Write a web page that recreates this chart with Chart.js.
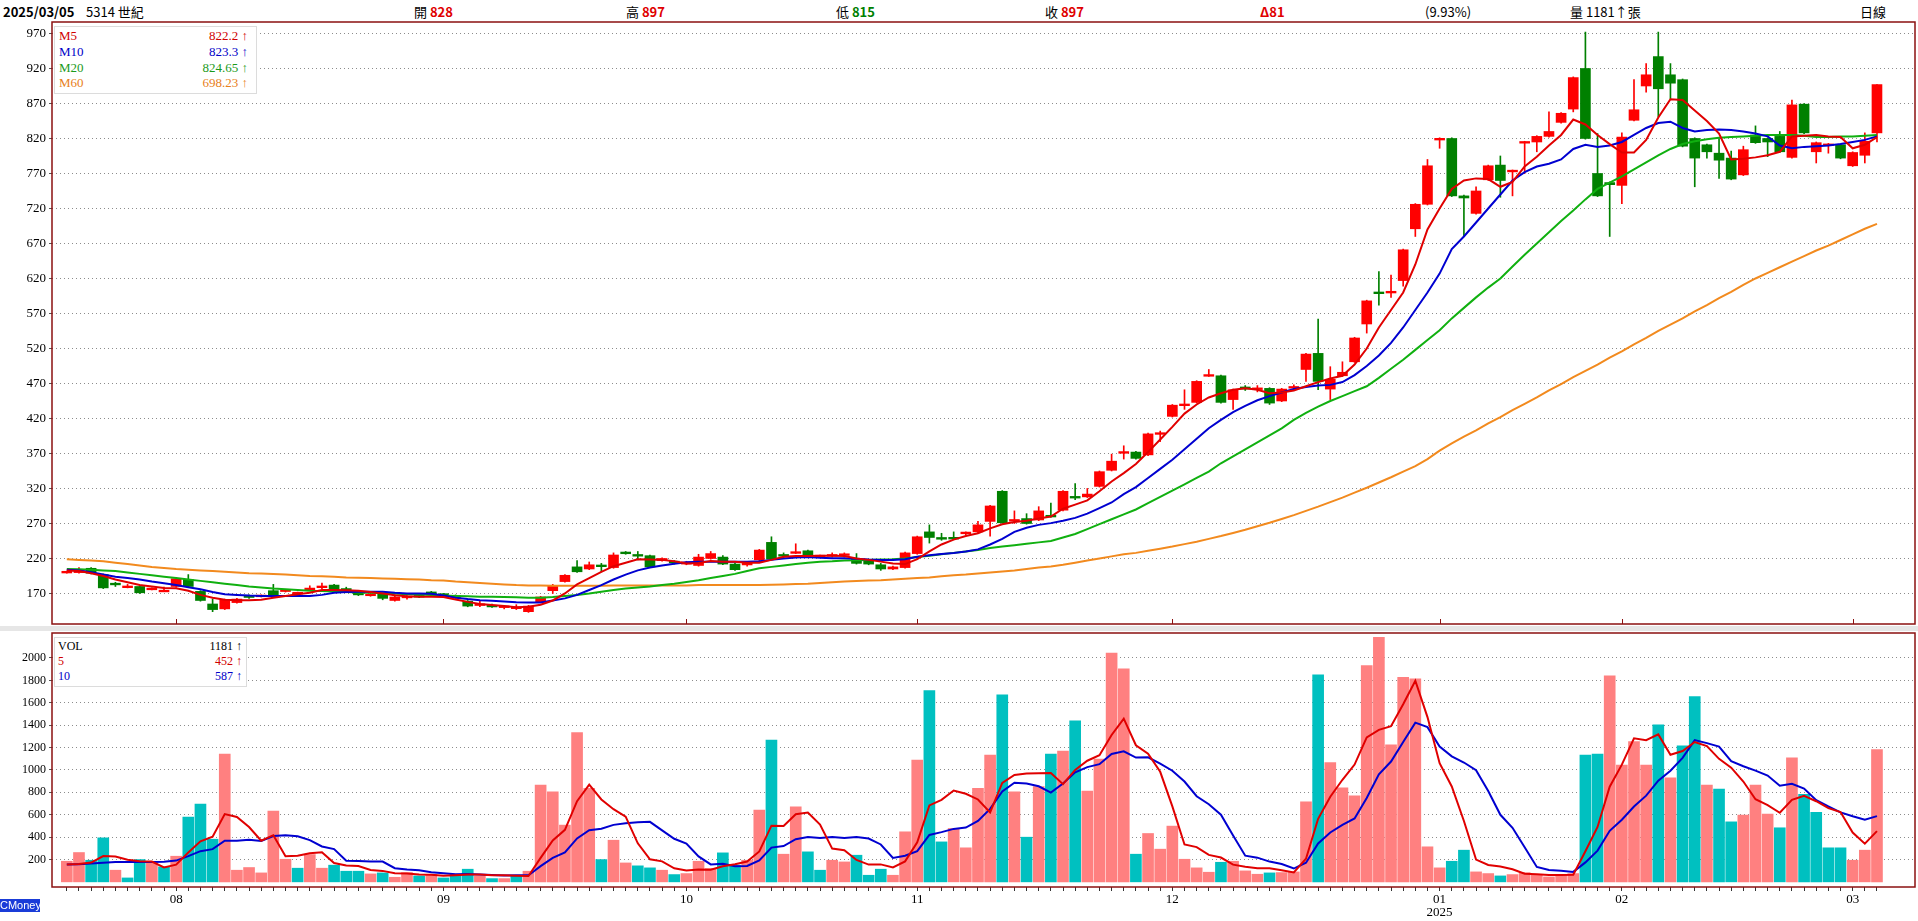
<!DOCTYPE html>
<html>
<head>
<meta charset="utf-8">
<script src="https://cdn.jsdelivr.net/npm/chart.js@4.4.1/dist/chart.umd.min.js"></script>
<style>
  body { margin: 0; width: 1918px; height: 921px; overflow: hidden; position: relative; background: #fff;
         font-family: "Liberation Serif", "Noto Sans CJK TC", serif; }
  canvas { position: absolute; left: 0; }
  #head span { position: absolute; top: 2px; font-size: 13px; white-space: nowrap; font-family: "Liberation Sans Narrow", "Noto Sans CJK TC", sans-serif; }
  .b { font-weight: bold; }
  .red { color: #e00000; }
  .grn { color: #008000; }
  .box { position: absolute; background: #fff; border: 1px solid #dcdcdc; font-size: 13px; }
  .box div { position: absolute; white-space: nowrap; }
  #strip { position: absolute; left: 0; top: 626px; width: 1918px; height: 5px; background: #e6e6e6; }
  #cm { position: absolute; left: 0; top: 899px; width: 40px; height: 13px; background: #1a3cd8; color: #fff;
        font: 11px "Liberation Sans Narrow", sans-serif; line-height: 13px; text-align: center; }
</style>
</head>
<body>
<div id="head">
  <span class="b" style="left:3px">2025/03/05</span>
  <span style="left:86px">5314 世紀</span>
  <span style="left:414px">開 <b class="red">828</b></span>
  <span style="left:626px">高 <b class="red">897</b></span>
  <span style="left:836px">低 <b class="grn">815</b></span>
  <span style="left:1045px">收 <b class="red">897</b></span>
  <span class="b red" style="left:1260px">Δ81</span>
  <span style="left:1425px">(9.93%)</span>
  <span style="left:1570px">量 1181↑張</span>
  <span style="left:1860px">日線</span>
</div>
<canvas id="main" width="1918" height="606" style="top:20px"></canvas>
<div id="strip"></div>
<canvas id="vol" width="1918" height="290" style="top:631px"></canvas>
<div class="box" style="left:54px;top:26px;width:201px;height:66px">
  <div style="left:4px;top:1px;color:#d00000">M5</div><div style="right:8px;top:1px;color:#d00000">822.2 ↑</div>
  <div style="left:4px;top:17px;color:#0000c8">M10</div><div style="right:8px;top:17px;color:#0000c8">823.3 ↑</div>
  <div style="left:4px;top:33px;color:#1a9a1a">M20</div><div style="right:8px;top:33px;color:#1a9a1a">824.65 ↑</div>
  <div style="left:4px;top:48px;color:#e8801a">M60</div><div style="right:8px;top:48px;color:#e8801a">698.23 ↑</div>
</div>
<div class="box" style="left:54px;top:637px;width:191px;height:48px;font-size:12px">
  <div style="left:3px;top:1px;color:#000">VOL</div><div style="right:4px;top:1px;color:#000">1181 ↑</div>
  <div style="left:3px;top:16px;color:#d00000">5</div><div style="right:4px;top:16px;color:#d00000">452 ↑</div>
  <div style="left:3px;top:31px;color:#0000c8">10</div><div style="right:4px;top:31px;color:#0000c8">587 ↑</div>
</div>
<div id="cm">CMoney</div>
<script>
// daily candles, 2024/07/17 .. 2025/03/05
const opens = [
  200,200,206,197,184,179,180,176,173,180, 190,173,155,148,157,166,166,174,173,170,
  176,179,182,177,171,167,169,160,164,167, 172,169,166,159,153,153,150,149,144,158,
  174,187,208,205,210,207,229,225,224,217, 216,212,210,220,222,212,211,218,243,225,
  228,231,223,224,225,219,218,211,205,207, 227,258,250,249.5,256,258,273,316,274,277,
  275,281,289,308,308,323,346,371,372,368, 398,423,439,443,481,481,447,465,462,463,
  445,464,490,513,462,481,501,555,600,600, 617,691,726,818,820,738,713,761,782,773,
  814,815,823,843,862,920,770,757,753,846, 895,937,911,904,820,811,799,792,768,825,
  820,823,793,869,801,810,811,781,796,828];
const highs = [
  202,207,207,198,186,183,180,178,179,192, 197,174,162,162,163,168,168,183,176,172,
  181,185,183,179,173,171,170,168,167,168, 173,170,168,160,159,155,153,154,153,166,
  183,197,217,215,213,228,230,230,225,221, 217,216,226,230,224,213,216,233,251,228,
  241,232,225,228,228,227,219,213,209,229, 252,268,256,258,258,273,296,317,288,284,
  294,299,317,327,320,345,369,381,373,399, 402,440,461,474,490,482,462,467,467,464,
  463,468,513,562,494,501,536,589,630,625, 662,727,790,821,821,739,751,782,795,775,
  816,824,858,857,908,972,827,758,828,904, 927,972,927,905,821,812,820,802,809,838,
  821,830,875,870,815,813,812,801,828,897];
const lows = [
  199,199,198,177,180,178,170,175,173,179, 179,159,144,147,156,163,165,167,172,169,
  175,177,173,171,167,166,161,159,162,164, 169,167,163,151,151,150,148,147,143,157,
  170,186,200,204,201,206,226,218,207,216, 212,211,209,219,211,203,209,217,218,221,
  227,224,222,222,222,212,211,203,204,206, 226,242,246,247,254,256,252,270,270,269,
  274,279,288,304,307,322,345,362,362,367, 387,422,433,442,480,442,433,460,458,440,
  444,460,473,461,447,480,500,542,582,593, 609,680,725,806,737,681,712,760,736,738,
  770,801,822,842,858,819,737,680,727,845, 886,851,877,808,751,792,763,761,767,813,
  794,800,792,827,785,799,791,780,785,815];
const closes = [
  201,202,199,178,183,180,171,177,174,191, 180,160,147,161,162,165,167,168,175,171,
  177,180,174,172,168,169,163,165,166,165, 170,168,165,152,155,151,152,150,152,165,
  181,196,201,211,209,225,227,224,208,220, 214,215,222,227,212,204,213,232,219,224,
  229,225,224,225,226,213,212,205,208,228, 251,250,247.5,248.5,257,268,295,271,275,270,
  288,280,316,307,312,344,359,372,363,398, 399,439,440,473,482,443,461,462,463,442,
  462,465,512,473,476,486,535,588,599,601, 661,726,781,820,738,735,745,781,760,774,
  815,823,830,856,907,820,738,754,822,861, 911,891,899,809,792,801,789,762,804,814,
  815,801,868,828,814,812,792,800,816,897];

const ma5 = [
  203,202,199,195,190,186,182,180,178,177.5, 174,168,164,161,160.5,160.5,161,164,166.5,169,
  171,175,175,174.5,174,172,170,167.5,166,165.5, 165.5,165,161.5,158,155,153.5,152,150.5,151,154,
  160,170,183,192,201,209,214,219,218.5,218, 216,213,213.5,216.5,215.5,215.5,214,214,218,222.5,
  223.5,223.5,224,224,223.5,220,218,215.5,213,212, 219,230,240,247,252,256,263,269,272,274,
  277,280,291,297,303,316,330,342,355,372, 390,408,427,440,450,456,461,463,461,456,
  457,460,466,472,477,481,497,520,550,575, 600,640,690,720,748,760,763,762,751,758,
  780,794,810,825,847,840,825,812,800,800, 818,850,876,875,860,845,827,790,791,793,
  796,801,823,824,825,823,822,806,811,822];
const ma10 = [
  204,203,200.5,197,194,192,190,187,184.5,182, 179,176,172,169,168,167,166.5,166.5,166.5,166.5,
  166.5,168,171,172,172.5,172.5,172.5,171,170,170, 169.5,167,164,162,160.5,159.5,158.5,157.5,157,157,
  160,163,168,175,182,190,197,203,207,210, 212.5,214.5,215.5,215.5,215.5,215.5,215.5,216,218,220,
  221.5,222,221,220.5,220.5,219.5,218.5,218,218,219, 222.5,224.5,226.5,228,230,233,240,248,258,264,
  268,270.5,274,278,284,292,300,312,322,335, 348,361,376,391,406,418,429,438,446,452,
  457,462,465,467,468,472,482,495,510,528, 550,575,600,627,662,680,700,720,740,760,
  772,780,784,790,805,811,808,810,815,825, 835,842,844,835,830,832,833,832,830,827,
  823,810,806,808,809,810,812,815,818,823];
const ma20 = [
  205,204.5,204,203,202,200,198,196,194,192, 190,188,186,184,182,180,178.5,177,176,175,
  174,173.5,173,172,171.5,171,170.5,170,169,168.5, 168,167,166.5,166,165.5,165.5,165,164.5,164,164,
  165,166.5,168,170,172.5,175,177,178.5,180,182, 184,186.5,189,192,195,198,202,206,208,210,
  212,214,215.5,216,217,217.5,218,218.5,219,220, 222,224,226,228,230,232,235,237,239,241,
  243,245,250,255,262,269,276,283,290,299, 308,317,326,335,344,356,366,376,386,396,
  406,418,428,437,445,452,459,466,478,491, 504,518,532,546,563,578,593,607,620,637,
  654,670,686,702,717,733,748,757,766,776, 786,796,805,812,816,819,821,822,823,824,
  825,825,825,824,822,822,823,823,824,825];
const ma60 = [
  219,218,217,216,214,212,210,208,206.5,205, 204,203,202,201,200,199,198.5,198,197,196,
  195,194.5,194,193,192.5,192,191.5,191,190.5,190, 189,188.5,187,186,185,184,183,182,181.5,181.5,
  181,181,181,181,181,181.5,181.5,181.5,181.5,181.5, 181.5,181.5,182,182,182,182,182,182,182.5,183,
  183.5,184,185,186,187,188,188.5,189,190,191, 192,193,194.5,196,197,198.5,200,201.5,203,205,
  207,208.5,211,214,217,220,223,226,228,231, 234,237,240.5,244,248,252,256.5,261,266,271,
  276.5,282,288,294,300.5,307,314,321,328.5,336, 344,352,362,374,384.5,394,403,413,422,432,
  441,450,460,469,479,488,497,507,516,526, 535,545,554,563,573,582,592,601,611,620,
  628,636,644,652,660,667,675,683,691,698];

const volumes = [
  184,262,193,393,104,35,199,172,134,229, 578,695,381,1142,104,128,80,632,202,122,
  244,122,149,95,95,71,80,41,83,53, 65,35,65,113,53,29,29,53,95,865,
  805,507,1333,835,199,372,169,143,125,104, 65,74,184,119,259,149,193,641,1267,247,
  671,268,104,193,178,238,59,113,59,447, 1088,1709,357,477,304,835,1133,1670,805,399,
  850,1142,1169,1438,811,1097,2043,1903,247,432, 292,498,202,125,86,175,184,98,68,80,
  83,89,715,1849,1065,841,769,1933,2184,1223, 1826,1814,313,125,184,283,89,74,53,65,
  83,59,44,59,74,1133,1142,1840,1044,1253, 1044,1402,930,1214,1655,865,829,536,596,865,
  605,483,1109,781,620,304,304,193,283,1181];
const volMa5 = [
  155,160,172,230,227,197,185,181,129,154, 262,362,403,605,580,490,367,417,229,233,
  256,264,168,146,141,106,98,76,74,66, 64,55,60,66,66,59,58,55,52,214,
  369,465,721,869,736,649,582,344,202,183, 121,102,110,109,140,157,181,272,502,499,
  604,619,511,297,283,196,154,156,129,183, 353,683,732,816,787,736,621,884,955,968,
  971,973,873,1000,1082,1131,1312,1458,1220,1144, 983,674,334,310,241,217,154,134,122,121,
  103,84,207,563,760,912,1048,1291,1358,1390, 1587,1796,1472,1060,852,544,199,151,137,113,
  73,67,61,62,64,274,490,850,1047,1282, 1265,1317,1135,1169,1249,1213,1099,1020,896,738,
  686,617,732,769,720,659,624,440,341,453];
const volMa10 = [
  155,158,163,170,178,178,178,178,180,190, 230,274,292,367,367,376,365,410,417,407,
  373,316,293,188,187,181,181,122,110,104, 85,77,68,70,66,62,57,58,59,140,
  214,262,388,461,475,509,524,533,536,460, 385,342,227,156,162,139,142,191,306,320,
  381,400,392,400,391,400,387,334,213,233, 275,419,444,473,485,545,652,808,886,878,
  854,797,879,978,1025,1051,1143,1166,1110,1113, 1057,993,896,765,693,600,414,234,216,181,
  160,119,171,343,441,508,566,749,961,1075, 1250,1422,1382,1209,1121,1066,998,812,599,483,
  309,133,106,100,89,174,279,456,555,673, 770,904,993,1108,1266,1239,1208,1078,1033,994,
  950,858,876,833,729,673,621,586,555,587];

const priceTicks = [170, 220, 270, 320, 370, 420, 470, 520, 570, 620, 670, 720, 770, 820, 870, 920, 970];
const volTicks = [200, 400, 600, 800, 1000, 1200, 1400, 1600, 1800, 2000];
const monthStarts = [9, 31, 51, 70, 91, 113, 128, 147];
const monthLabels = ['08', '09', '10', '11', '12', ['01', '2025'], '02', '03'];

const xMin = -1.22, xMax = 152.13;
const serif = 'Liberation Serif';

const pts = arr => arr.map((v, i) => ({x: i, y: v}));

const framePlugin = {
    id: 'frame',
    afterDraw(chart, args, opts) {
        const {ctx, chartArea: a} = chart;
        ctx.save();
        // month marks along the bottom edge of the price panel
        if (opts.monthMarks) {
            ctx.strokeStyle = '#8b1010';
            ctx.lineWidth = 1;
            monthStarts.forEach(m => {
                const px = Math.round(chart.scales.x.getPixelForValue(m)) + 0.5;
                ctx.beginPath();
                ctx.moveTo(px, a.bottom);
                ctx.lineTo(px, a.bottom - 5);
                ctx.stroke();
            });
        }
        ctx.strokeStyle = '#8b1010';
        ctx.lineWidth = 1.5;
        ctx.strokeRect(a.left, a.top, a.right - a.left, a.bottom - a.top);
        ctx.restore();
    }
};

// candle parts
const upColor = '#ff0000', downColor = '#008000';
const candleColors = closes.map((c, i) => c >= opens[i] ? upColor : downColor);
const bodies = opens.map((o, i) => {
    let lo = Math.min(o, closes[i]), hi = Math.max(o, closes[i]);
    if (hi - lo < 2.4) {
        const mid = (lo + hi) / 2;
        lo = mid - 1.2; hi = mid + 1.2;
    }
    return {x: i, y: [lo, hi]};
});
const wicks = lows.map((l, i) => ({x: i, y: [l, highs[i]]}));

const yAxisFit = s => { s.width = 52; s.paddingTop = 0; s.paddingBottom = 0; };

new Chart(document.getElementById('main'), {
    type: 'bar',
    data: {
        datasets: [
            {type: 'line', data: pts(ma5), borderColor: '#e00000', borderWidth: 2, pointRadius: 0, order: 0},
            {type: 'line', data: pts(ma10), borderColor: '#0000d0', borderWidth: 2, pointRadius: 0, order: 0},
            {type: 'line', data: pts(ma20), borderColor: '#10b010', borderWidth: 2, pointRadius: 0, order: 0},
            {type: 'line', data: pts(ma60), borderColor: '#f28a1e', borderWidth: 2, pointRadius: 0, order: 0},
            {data: bodies, backgroundColor: candleColors, barThickness: 10, grouped: false, order: 1},
            {data: wicks, backgroundColor: candleColors, barThickness: 1, grouped: false, order: 2}
        ]
    },
    options: {
        responsive: false,
        animation: false,
        layout: {padding: {left: 0, right: 3, top: 2, bottom: 2}},
        plugins: {legend: {display: false}, tooltip: {enabled: false}, frame: {monthMarks: true}},
        scales: {
            x: {
                type: 'linear', min: xMin, max: xMax, offset: false, position: 'bottom',
                afterBuildTicks: s => { s.ticks = volumes.map((v, i) => ({value: i})); },
                afterFit: s => { s.height = 0; s.paddingLeft = 0; s.paddingRight = 0; },
                ticks: {display: false},
                grid: {display: false},
                border: {display: false}
            },
            y: {
                min: 126.4, max: 986.4,
                afterBuildTicks: s => { s.ticks = priceTicks.map(v => ({value: v})); },
                afterFit: yAxisFit,
                ticks: {color: '#000', font: {family: serif, size: 13}, padding: 3, callback: v => String(v)},
                grid: {color: '#8c8c8c', tickLength: 3, tickColor: '#555'},
                border: {display: false, dash: [1, 3]}
            }
        }
    },
    plugins: [framePlugin]
});

const volColors = volumes.map((v, i) => (i === 0 || closes[i] >= closes[i - 1]) ? '#ff8080' : '#00c0c0');

new Chart(document.getElementById('vol'), {
    type: 'bar',
    data: {
        datasets: [
            {type: 'line', data: pts(volMa5), borderColor: '#e00000', borderWidth: 2, pointRadius: 0, order: 0},
            {type: 'line', data: pts(volMa10), borderColor: '#0000d0', borderWidth: 2, pointRadius: 0, order: 0},
            {data: pts(volumes), backgroundColor: volColors, barThickness: 11, grouped: false, order: 1}
        ]
    },
    options: {
        responsive: false,
        animation: false,
        layout: {padding: {left: 0, right: 3, top: 2, bottom: 0}},
        plugins: {legend: {display: false}, tooltip: {enabled: false}, frame: {monthMarks: false}},
        scales: {
            x: {
                type: 'linear', min: xMin, max: xMax, offset: false, position: 'bottom',
                afterBuildTicks: s => { s.ticks = volumes.map((v, i) => ({value: i})); },
                afterFit: s => { s.height = 34; s.paddingLeft = 0; s.paddingRight = 0; },
                ticks: {
                    autoSkip: false, maxRotation: 0, minRotation: 0, padding: 2,
                    color: '#000', font: {family: serif, size: 13, lineHeight: 1.0},
                    callback: v => {
                        const k = monthStarts.indexOf(v);
                        return k >= 0 ? monthLabels[k] : '';
                    }
                },
                grid: {drawOnChartArea: false, offset: false, tickLength: 4, color: '#333', tickColor: '#333'},
                border: {display: false}
            },
            y: {
                min: -46, max: 2223,
                afterBuildTicks: s => { s.ticks = volTicks.map(v => ({value: v})); },
                afterFit: yAxisFit,
                ticks: {color: '#000', font: {family: serif, size: 12}, padding: 3, callback: v => String(v)},
                grid: {color: '#8c8c8c', tickLength: 3, tickColor: '#555'},
                border: {display: false, dash: [1, 3]}
            }
        }
    },
    plugins: [framePlugin]
});
</script>
</body>
</html>
